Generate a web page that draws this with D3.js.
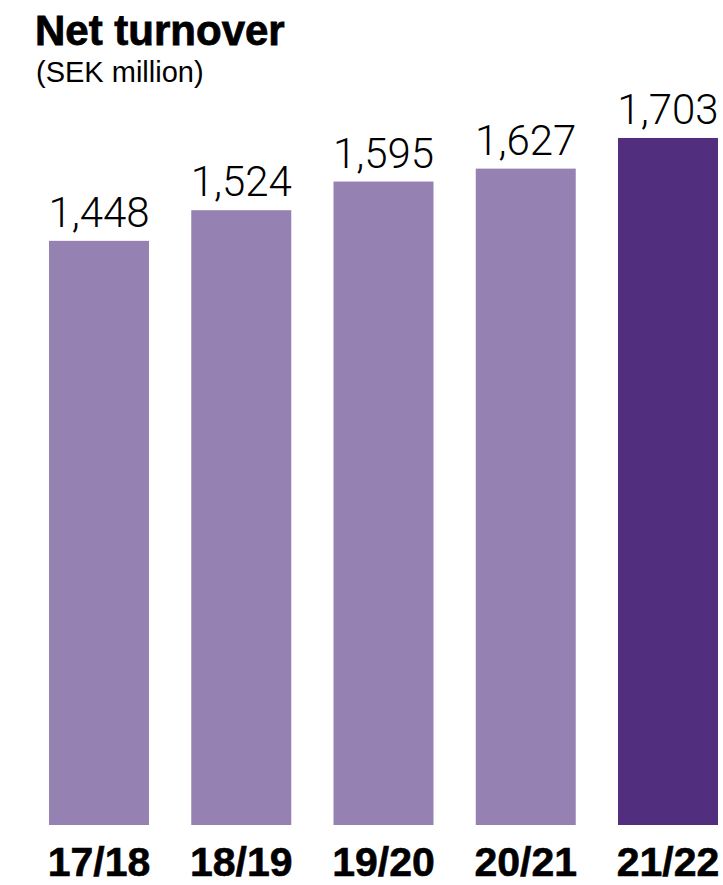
<!DOCTYPE html>
<html>
<head>
<meta charset="utf-8">
<script src="https://cdn.jsdelivr.net/npm/d3@7/dist/d3.min.js"></script>
<style>
  html, body { margin: 0; padding: 0; background: #fff; }
  svg { display: block; }
</style>
</head>
<body>
<svg id="chart" width="723" height="885"></svg>
<script>
// Net turnover per financial year, SEK million
const years = ["17/18", "18/19", "19/20", "20/21", "21/22"];
const turnover = [1448, 1524, 1595, 1627, 1703];
const valueLabels = ["1,448", "1,524", "1,595", "1,627", "1,703"];
const barColors = ["#9682b2", "#9682b2", "#9682b2", "#9682b2", "#522e7e"];

const svg = d3.select("#chart");

const x = d3.scaleBand()
  .domain(years)
  .range([49, 718])
  .paddingInner(0.297)
  .paddingOuter(0);

const y = d3.scaleLinear()
  .domain([0, 2045])
  .range([825, 0]);

// Title block
svg.append("text")
  .attr("x", 35)
  .attr("y", 45)
  .attr("font-family", "'Liberation Sans', Arial, sans-serif")
  .attr("font-weight", 700)
  .attr("font-size", 42)
  .attr("letter-spacing", 0)
  .attr("stroke", "#000")
  .attr("stroke-width", 0.8)
  .attr("fill", "#000")
  .text("Net turnover");

svg.append("text")
  .attr("x", 36)
  .attr("y", 82)
  .attr("font-family", "'Liberation Sans', Arial, sans-serif")
  .attr("font-size", 29)
  .attr("fill", "#000")
  .text("(SEK million)");

const data = years.map((d, i) => ({ year: d, value: turnover[i], label: valueLabels[i], color: barColors[i] }));

// Bars
svg.append("g")
  .selectAll("rect")
  .data(data)
  .join("rect")
  .attr("x", d => x(d.year))
  .attr("width", x.bandwidth())
  .attr("y", d => y(d.value))
  .attr("height", d => y(0) - y(d.value))
  .attr("fill", d => d.color);

// Value labels above bars
svg.append("g")
  .selectAll("text")
  .data(data)
  .join("text")
  .attr("x", d => x(d.year) + x.bandwidth() / 2)
  .attr("y", d => y(d.value) - 14)
  .attr("text-anchor", "middle")
  .attr("font-family", "Roboto, sans-serif")
  .attr("font-weight", 300)
  .attr("font-size", 42)
  .attr("fill", "#000")
  .text(d => d.label);

// Category axis labels
const xAxis = d3.axisBottom(x).tickSize(0).tickPadding(0);
const gx = svg.append("g")
  .attr("transform", "translate(0,876)")
  .call(xAxis);
gx.select(".domain").remove();
gx.selectAll("text")
  .attr("dy", 0)
  .attr("font-family", "'Liberation Sans', Arial, sans-serif")
  .attr("font-weight", 700)
  .attr("font-size", 41)
  .attr("stroke", "#000")
  .attr("stroke-width", 0.6)
  .attr("fill", "#000");
</script>
</body>
</html>
